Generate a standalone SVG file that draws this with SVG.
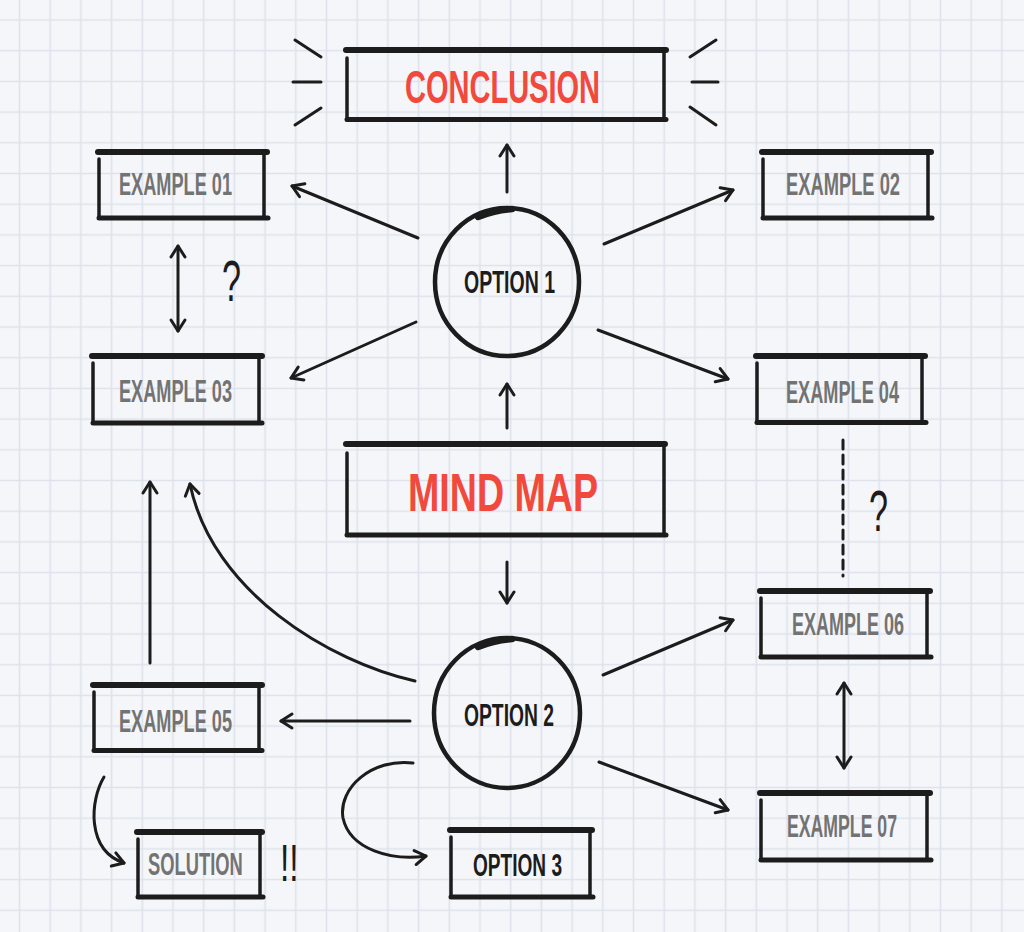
<svg xmlns="http://www.w3.org/2000/svg" width="1024" height="932" viewBox="0 0 1024 932">
<defs>
<pattern id="grid" x="4.15" y="4.65" width="30.7" height="30.7" patternUnits="userSpaceOnUse">
<path d="M15.35 0V30.7M0 15.35H30.7" stroke="#dde2eb" stroke-width="1.6" fill="none"/>
</pattern>
<marker id="arr" viewBox="0 0 20 20" refX="16" refY="10" markerWidth="20" markerHeight="20" markerUnits="userSpaceOnUse" orient="auto-start-reverse">
<path d="M5 3 L16 10 L5 17" fill="none" stroke="#1c1c1c" stroke-width="3" stroke-linecap="round" stroke-linejoin="round"/>
</marker>
<style>
.edge{fill:none;stroke:#1c1c1c;stroke-width:3;stroke-linecap:round}
.arr{marker-end:url(#arr)}
.dbl{marker-start:url(#arr);marker-end:url(#arr)}
.bt{fill:none;stroke:#1c1c1c;stroke-width:6;stroke-linecap:round}
.bb{fill:none;stroke:#1c1c1c;stroke-width:5;stroke-linecap:round}
.bs{fill:none;stroke:#1c1c1c;stroke-width:3.5;stroke-linecap:round}
.circ{fill:none;stroke:#1c1c1c;stroke-width:4.5}
.red{font-family:"Liberation Sans",Arial,sans-serif;font-weight:bold;fill:#f2493d}
.gray{font-family:"Liberation Sans",Arial,sans-serif;font-weight:bold;fill:#737373;font-size:32px}
.dark{font-family:"Liberation Sans",Arial,sans-serif;font-weight:bold;fill:#1c1c1c;font-size:31px}
.hand{font-family:"Liberation Sans",Arial,sans-serif;fill:#1c1c1c}
</style>
</defs>
<rect width="1024" height="932" fill="#f5f6f9"/>
<rect width="1024" height="932" fill="url(#grid)"/>

<g id="connectors">
<path class="edge arr" d="M507 192V145"/>
<path class="edge arr" d="M418 238L292 186"/>
<path class="edge arr" d="M604 244L733 190"/>
<path class="edge arr" d="M416 322L291 378"/>
<path class="edge arr" d="M598 330L728 379"/>
<path class="edge arr" d="M507 428V384"/>
<path class="edge arr" d="M507 562V603"/>
<path class="edge dbl" d="M178 246V331"/>
<path class="edge" d="M843 440V576" stroke-dasharray="9 6" stroke-linecap="butt"/>
<path class="edge arr" d="M603 675L733 620"/>
<path class="edge arr" d="M599 762L728 810"/>
<path class="edge arr" d="M410 721H281"/>
<path class="edge dbl" d="M844 683V768"/>
<path class="edge arr" d="M150 663V482"/>
<path class="edge arr" d="M415 681C330 662 212 592 190 484"/>
<path class="edge arr" d="M104 777C90 800 86 850 124 863"/>
<path class="edge arr" d="M413 763C372 758 338 788 343 818C350 850 392 861 426 856"/>
<path class="edge" d="M295 40L321 57M293 82H321M295 125L321 108"/>
<path class="edge" d="M690 57L716 40M692 82H718M690 107L716 125"/>
<text class="hand" x="222" y="301" font-size="58" textLength="19" lengthAdjust="spacingAndGlyphs">?</text>
<text class="hand" x="869" y="531" font-size="58" textLength="19" lengthAdjust="spacingAndGlyphs">?</text>
<text class="hand" transform="translate(280 881) scale(0.6 1)" x="0" y="0" font-size="52" textLength="31" lengthAdjust="spacingAndGlyphs">!!</text>
</g>

<g id="conclusion">
<path class="bt" d="M346 50H666"/>
<path class="bs" d="M347 58V120M664 52V119"/>
<path class="bb" d="M347 119.5H666"/>
<text class="red" x="405" y="103" font-size="46" textLength="195" lengthAdjust="spacingAndGlyphs">CONCLUSION</text>
</g>

<g id="example01">
<path class="bt" d="M98 152H267"/>
<path class="bs" d="M99 159V218M264 151V218"/>
<path class="bb" d="M99 218H268"/>
<text class="gray" x="119" y="195" textLength="113" lengthAdjust="spacingAndGlyphs">EXAMPLE 01</text>
</g>

<g id="example02">
<path class="bt" d="M762 152H931"/>
<path class="bs" d="M763 159V218M928 151V218"/>
<path class="bb" d="M763 218H932"/>
<text class="gray" x="786" y="195" textLength="114" lengthAdjust="spacingAndGlyphs">EXAMPLE 02</text>
</g>

<g id="option1">
<ellipse class="circ" cx="507" cy="282" rx="72" ry="74"/>
<path d="M478 217C490 212 500 210 512 209" fill="none" stroke="#1c1c1c" stroke-width="6.5" stroke-linecap="round"/>
<text class="dark" x="464" y="293" textLength="91" lengthAdjust="spacingAndGlyphs">OPTION 1</text>
</g>

<g id="example03">
<path class="bt" d="M92 356H262"/>
<path class="bs" d="M93 363V423M259 355V423"/>
<path class="bb" d="M93 423H262"/>
<text class="gray" x="119" y="402" textLength="113" lengthAdjust="spacingAndGlyphs">EXAMPLE 03</text>
</g>

<g id="example04">
<path class="bt" d="M756 356H925"/>
<path class="bs" d="M757 363V422M922 355V422"/>
<path class="bb" d="M757 422.5H926"/>
<text class="gray" x="786" y="403" textLength="113" lengthAdjust="spacingAndGlyphs">EXAMPLE 04</text>
</g>

<g id="mindmap">
<path class="bt" d="M346 444H665"/>
<path class="bs" d="M347 453V535M664 446V535"/>
<path class="bb" d="M347 535H666"/>
<text class="red" x="408" y="511" font-size="54" textLength="190" lengthAdjust="spacingAndGlyphs">MIND MAP</text>
</g>

<g id="option2">
<ellipse class="circ" cx="507" cy="713" rx="73" ry="75"/>
<path d="M478 647C490 642 500 640 512 639" fill="none" stroke="#1c1c1c" stroke-width="6.5" stroke-linecap="round"/>
<text class="dark" x="464" y="726" textLength="90" lengthAdjust="spacingAndGlyphs">OPTION 2</text>
</g>

<g id="example05">
<path class="bt" d="M93 685H262"/>
<path class="bs" d="M94 692V750M259 684V750"/>
<path class="bb" d="M94 750.5H262"/>
<text class="gray" x="119" y="732" textLength="113" lengthAdjust="spacingAndGlyphs">EXAMPLE 05</text>
</g>

<g id="example06">
<path class="bt" d="M760 591H930"/>
<path class="bs" d="M761 598V657M927 590V657"/>
<path class="bb" d="M761 657H931"/>
<text class="gray" x="792" y="635" textLength="112" lengthAdjust="spacingAndGlyphs">EXAMPLE 06</text>
</g>

<g id="example07">
<path class="bt" d="M760 793H930"/>
<path class="bs" d="M761 800V860M927 792V860"/>
<path class="bb" d="M761 860H931"/>
<text class="gray" x="787" y="837" textLength="110" lengthAdjust="spacingAndGlyphs">EXAMPLE 07</text>
</g>

<g id="solution">
<path class="bt" d="M137 832H262"/>
<path class="bs" d="M138 839V897M260 831V897"/>
<path class="bb" d="M138 897H263"/>
<text class="gray" transform="translate(148 875) scale(0.6 1)" x="0" y="0" textLength="158" lengthAdjust="spacingAndGlyphs">SOLUTION</text>
</g>

<g id="option3">
<path class="bt" d="M450 830H592"/>
<path class="bs" d="M451 837V897M590 829V897"/>
<path class="bb" d="M451 897H593"/>
<text class="dark" x="473" y="876" textLength="89" lengthAdjust="spacingAndGlyphs">OPTION 3</text>
</g>
</svg>
